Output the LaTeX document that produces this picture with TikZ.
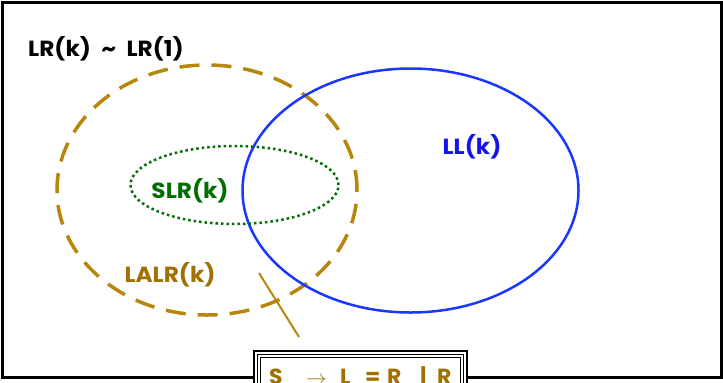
\documentclass[tikz,border=0pt]{standalone}
\usepackage{fontspec}
\usetikzlibrary{shapes.geometric}
\setmainfont{Poppins}
\definecolor{gold}{RGB}{184,134,11}
\definecolor{goldtext}{RGB}{160,112,0}
\definecolor{llblue}{RGB}{25,55,255}
\definecolor{lltext}{RGB}{20,20,230}
\definecolor{slrgreen}{RGB}{0,110,0}
\newcommand{\wide}[1]{\scalebox{1.06}[1]{#1}}
\newcommand{\at}[2]{\makebox[0pt][l]{\hspace*{#1bp}#2}}
\begin{document}
\begin{tikzpicture}[x=1bp,y=-1bp,
  lbl/.style={font=\fontsize{22}{26}\selectfont\bfseries, inner sep=0pt},
  frameline/.style={draw=black, line width=3bp},
  lalr/.style={draw=gold, line width=3.5bp, dash pattern=on 20bp off 12bp},
  llset/.style={draw=llblue, line width=2.5bp},
  slrset/.style={draw=slrgreen, line width=2.5bp, dash pattern=on 2.5bp off 3bp},
  grammarbox/.style={fill=white, draw=black, line width=2bp}]
\useasboundingbox (0,0) rectangle (723,382);
\clip (0,0) rectangle (723,382);
% outer frame
\node[frameline, minimum width=718bp, minimum height=375bp, inner sep=0pt] (frame) at (362,189.5) {};
% language classes
\node[lalr, ellipse, minimum width=300bp, minimum height=250bp, inner sep=0pt] (lalrset) at (207,190) {};
\node[llset, ellipse, minimum width=336bp, minimum height=244bp, inner sep=0pt] (llk) at (410.5,190.5) {};
\node[slrset, ellipse, minimum width=208bp, minimum height=78bp, inner sep=0pt] (slr) at (234.5,185) {};
% labels
\node[lbl] (lrk) at (106,49) {\wide{LR(k)\hspace{0.45em}\char`~\hspace{0.45em}LR(1)}};
\node[lbl, text=slrgreen] (slrlbl) at (190,191) {\wide{SLR(k)}};
\node[lbl, text=lltext] (lllbl) at (472,147) {\wide{LL(k)}};
\node[lbl, text=goldtext] (lalrlbl) at (170,275) {\wide{LALR(k)}};
% grammar box at the bottom edge
\coordinate (tickA) at (259,273);
\coordinate (tickB) at (299,337);
\draw[gold, line width=2bp] (tickA) -- (tickB);
\draw[grammarbox] (254,351) rectangle (467,420);
\draw[black, line width=1.2bp] (257.5,354.5) rectangle (463.5,420);
\draw[black, line width=1bp] (260.5,357.5) rectangle (460.5,420);
\node[lbl, text=goldtext, anchor=base west] (gram) at (269,384)
  {\at{0}{S}\at{37}{$\rightarrow$}\at{71}{L}\at{96}{=}\at{118}{R}\at{151}{|}\at{168}{R}\hspace*{182bp}};
\end{tikzpicture}
\end{document}
